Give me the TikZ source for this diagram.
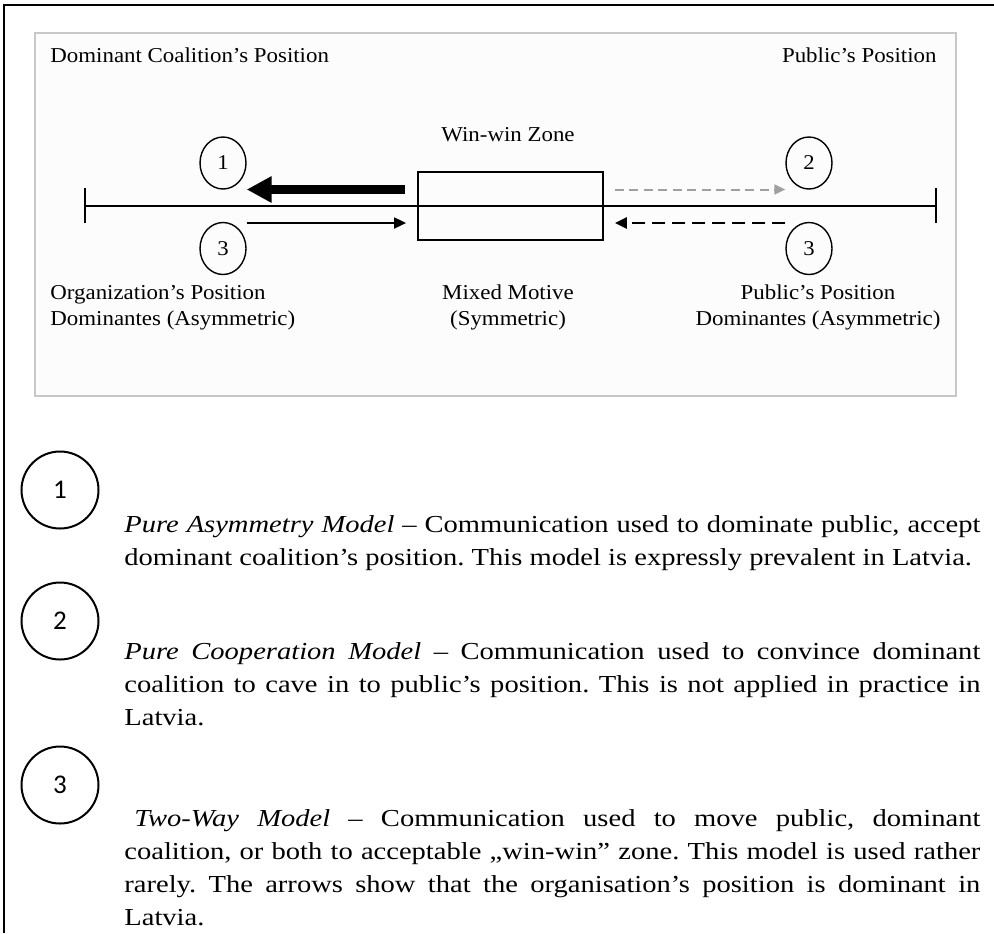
\documentclass[tikz,border=0pt]{standalone}
\usepackage{fontspec}
\setmainfont{Liberation Serif}
\newfontfamily\labelfont[Ligatures=TeX,FakeStretch=1.08]{Liberation Serif}
\newfontfamily\bodyfont[Ligatures=TeX,FakeStretch=1.17]{Liberation Serif}
\newfontfamily\numfont{Carlito}
\usetikzlibrary{arrows.meta,shapes.geometric}
\definecolor{panelline}{HTML}{C8C8C8}
\definecolor{panelfill}{HTML}{FCFCFC}
\definecolor{arrowgray}{HTML}{A0A0A0}
\tikzset{
    postext/.style={inner sep=0pt, font=\labelfont\fontsize{10.6pt}{13pt}\selectfont},
    topnum/.style={draw, ellipse, line width=0.7pt, minimum width=23pt, minimum height=26pt,
        inner sep=0pt, font=\labelfont\fontsize{10.5pt}{12pt}\selectfont},
    bignum/.style={draw, circle, line width=1pt, minimum size=38.5pt, inner sep=0pt,
        font=\numfont\fontsize{13.5pt}{16pt}\selectfont},
    modeltext/.style={anchor=base west, inner sep=0pt, text width=428pt, align=justify,
        font=\bodyfont\fontsize{12.2pt}{16.5pt}\selectfont\frenchspacing},
    axisline/.style={line width=0.9pt},
    heavyarrow/.style={line width=4.5pt, -{Triangle[length=12.5pt,width=12.5pt]}},
    thinarrow/.style={line width=0.9pt, -{Triangle[length=6pt,width=5.5pt]}},
    grayarrow/.style={arrowgray, line width=1pt, dash pattern=on 4.5pt off 2.75pt,
        -{Triangle[length=5.5pt,width=5pt]}},
    dasharrow/.style={line width=1.2pt, dash pattern=on 6.5pt off 3.5pt,
        -{Triangle[length=6pt,width=5.5pt]}}
}
\begin{document}
\begin{tikzpicture}[x=0.5pt,y=-0.5pt]
    \useasboundingbox (0,0) rectangle (994,933);
    \draw[line width=1.3pt] (4,933) -- (4,5) -- (994,5);
    \draw[panelline, fill=panelfill, line width=0.6pt] (35,33) rectangle (956,396);

    \node[postext, anchor=base west] (dompos) at (50,62) {Dominant Coalition's Position};
    \node[postext, anchor=base east] (pubpos) at (937,62) {Public's Position};

    \coordinate (axl) at (85,206);
    \coordinate (axr) at (936,206);
    \coordinate (upper) at (0,189.5);
    \coordinate (lower) at (0,223);
    \draw[axisline] (axl) -- (axr);
    \draw[axisline] ([yshift=9pt]axl) -- ([yshift=-8.5pt]axl);
    \draw[axisline] ([yshift=9pt]axr) -- ([yshift=-8.5pt]axr);

    \node[draw, line width=0.9pt, minimum width=92.5pt, minimum height=34pt, inner sep=0pt] (zone) at (510.5,206) {};
    \node[postext, anchor=base] (zonetitle) at (508,141.5) {Win-win Zone};

    \node[topnum] (c1) at (223,163) {1};
    \node[topnum] (c3l) at (223,248.5) {3};
    \node[topnum] (c2) at (809,163) {2};
    \node[topnum] (c3r) at (809,248.5) {3};

    \draw[heavyarrow] ([xshift=-6pt]zone.west |- upper) -- (c1.east |- upper);
    \draw[thinarrow] (c3l.east |- lower) -- ([xshift=-5.5pt]zone.west |- lower);
    \draw[grayarrow] ([xshift=5.5pt]zone.east |- upper) -- (c2.west |- upper);
    \draw[dasharrow] (c3r.west |- lower) -- ([xshift=5.5pt]zone.east |- lower);

    \node[postext, anchor=base west, align=left] (orgdom) at (50,325) {Organization's Position\\Dominantes (Asymmetric)};
    \node[postext, anchor=base, align=center] (mixed) at (508,325) {Mixed Motive\\(Symmetric)};
    \node[postext, anchor=base, align=center] (pubdom) at (818,325) {Public's Position\\Dominantes (Asymmetric)};

    \node[bignum] (n1) at (60,490) {1};
    \node[bignum] (n2) at (60,621) {2};
    \node[bignum] (n3) at (60,785) {3};

    \node[modeltext] (model1) at (124,532) {\textit{Pure Asymmetry Model} -- Communication used to dominate public, accept\linebreak dominant coalition's position. This model is expressly prevalent in Latvia.};
    \node[modeltext] (model2) at (124,659) {\textit{Pure Cooperation Model} -- Communication used to convince dominant\linebreak coalition to cave in to public's position. This is not applied in practice in\linebreak Latvia.};
    \node[modeltext] (model3) at (124,826) {\hspace*{5pt}\textit{Two-Way Model} -- Communication used to move public, dominant\linebreak coalition, or both to acceptable „win-win” zone. This model is used rather\linebreak rarely. The arrows show that the organisation's position is dominant in\linebreak Latvia.};
\end{tikzpicture}
\end{document}
